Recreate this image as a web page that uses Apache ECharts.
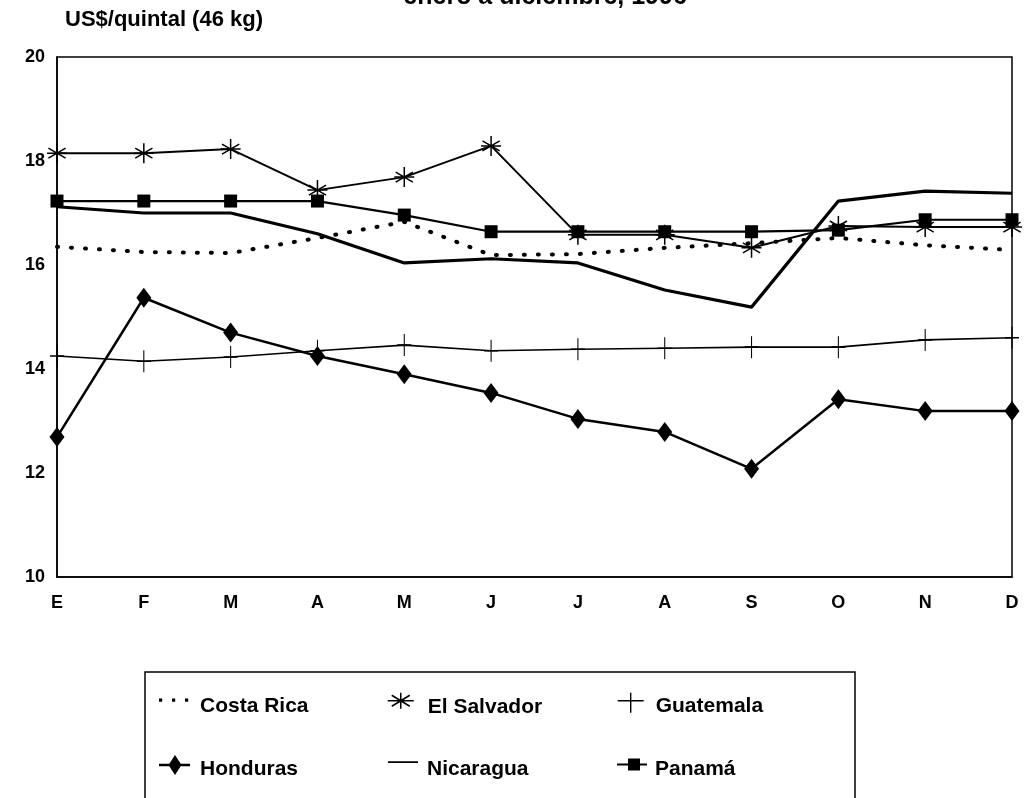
<!DOCTYPE html>
<html style="height: 100%">
<head>
	<meta charset="utf-8">
	<script type="text/javascript" src="https://cdn.jsdelivr.net/npm/echarts@6/dist/echarts.min.js"></script>
	<style>
	body { margin: 0; background: #fff; }
	#container { width: 1026px; height: 798px; }
	</style>
</head>
<body>
	<div id="container"></div>
	<script>
	// meses, enero a diciembre
	var meses = ['E', 'F', 'M', 'A', 'M', 'J', 'J', 'A', 'S', 'O', 'N', 'D'];
	var yTicks = [10, 12, 14, 16, 18, 20];
	// precios US$/quintal (46 kg)
	var costaRica  = [16.35, 16.25, 16.23, 16.52, 16.83, 16.19, 16.21, 16.33, 16.42, 16.52, 16.38, 16.29];
	var elSalvador = [18.15, 18.15, 18.23, 17.44, 17.69, 18.29, 16.58, 16.58, 16.33, 16.75, 16.73, 16.73];
	var guatemala  = [14.25, 14.15, 14.23, 14.35, 14.46, 14.35, 14.38, 14.40, 14.42, 14.42, 14.56, 14.60];
	var honduras   = [12.69, 15.37, 14.70, 14.25, 13.90, 13.54, 13.04, 12.79, 12.08, 13.42, 13.19, 13.19];
	var nicaragua  = [17.12, 17.00, 17.00, 16.60, 16.04, 16.12, 16.04, 15.52, 15.19, 17.23, 17.42, 17.38];
	var panama     = [17.23, 17.23, 17.23, 17.23, 16.96, 16.64, 16.64, 16.64, 16.64, 16.67, 16.87, 16.87];

	var asterisco = 'path://M5 0L5 10M0.7 2.5L9.3 7.5M0.7 7.5L9.3 2.5M0 5L10 5';
	var cruz = 'path://M5 0L5 10M0 5L10 5';
	var fuente = '"Liberation Sans", Arial, sans-serif';

	// iconos de la leyenda, en una caja de 36x28 (las esquinas fijan la caja)
	var caja = 'M0 0L0.01 0M36 28L35.99 28';
	var icono = {
		'Costa Rica': 'path://' + caja + 'M0 6.5H3.2V9.7H0ZM13 6.5H16.2V9.7H13ZM26 6.5H29.2V9.7H26Z',
		'El Salvador': 'path://' + caja + 'M1 8L27 8M14 0L14 16M5 2.5L23 13.5M5 13.5L23 2.5',
		'Guatemala': 'path://' + caja + 'M3 8L29 8M16 0L16 20',
		'Honduras': 'path://' + caja + 'M0 8.8H31V11.2H0ZM16 0L22.5 10L16 20L9.5 10Z',
		'Nicaragua': 'path://' + caja + 'M2 6.3H32V7.9H2Z',
		'Panamá': 'path://' + caja + 'M3 8.5H33V10.5H3ZM14 3.5H26V15.5H14Z'
	};

	var myChart = echarts.init(document.getElementById('container'), null, {renderer: 'canvas'});

	function leyenda(nombre, left, top, trazo) {
		return {
			data: [{name: nombre, icon: icono[nombre]}], left: left, top: top, padding: 0,
			itemWidth: 36, itemHeight: 28, symbolKeepAspect: true,
			itemStyle: {color: '#000', borderColor: '#000', borderWidth: trazo},
			textStyle: {fontFamily: fuente, fontSize: 21, fontWeight: 'bold', color: '#000'}
		};
	}

	var option = {
		backgroundColor: '#fff',
		animation: false,
		title: {
			text: '-enero a diciembre, 1996-',
			left: 390, top: -20,
			textStyle: {fontFamily: fuente, fontSize: 25, fontWeight: 'bold', color: '#000'}
		},
		grid: {left: 57, right: 14, top: 57, bottom: 221, show: true, borderColor: '#000', borderWidth: 1.5},
		xAxis: {
			type: 'category', data: meses, boundaryGap: false,
			axisLine: {lineStyle: {color: '#000', width: 1.5}},
			axisTick: {show: false},
			axisLabel: {margin: 17, color: '#000', fontFamily: fuente, fontSize: 18, fontWeight: 'bold'},
			splitLine: {show: false}
		},
		yAxis: {
			type: 'value', min: yTicks[0], max: yTicks[yTicks.length - 1], interval: 2,
			name: 'US$/quintal (46 kg)', nameLocation: 'end', nameGap: 37,
			nameTextStyle: {align: 'left', verticalAlign: 'middle', padding: [0, 0, 0, 8], color: '#000',
				fontFamily: fuente, fontSize: 22, fontWeight: 'bold'},
			axisLine: {show: true, lineStyle: {color: '#000', width: 1.5}},
			axisTick: {show: false},
			axisLabel: {margin: 12, color: '#000', fontFamily: fuente, fontSize: 18, fontWeight: 'bold'},
			splitLine: {show: false}
		},
		legend: [
			leyenda('Costa Rica', 159, 692, 0),
			leyenda('El Salvador', 386, 692, 1.5),
			leyenda('Guatemala', 614, 692, 1.4),
			leyenda('Honduras', 159, 755, 0),
			leyenda('Nicaragua', 386, 755, 0),
			leyenda('Panamá', 614, 755, 0)
		],
		graphic: [{
			type: 'rect', shape: {x: 145, y: 672, width: 710, height: 140},
			style: {fill: 'none', stroke: '#000', lineWidth: 1.5}, z: -1
		}],
		series: [
			{name: 'Costa Rica', type: 'line', data: costaRica, symbol: 'none',
				lineStyle: {color: '#000', width: 4, type: [1, 13], cap: 'round'}, itemStyle: {color: '#000'}},
			{name: 'El Salvador', type: 'line', data: elSalvador, symbol: asterisco, symbolSize: 20,
				lineStyle: {color: '#000', width: 2}, itemStyle: {color: '#000', borderColor: '#000', borderWidth: 1.5}},
			{name: 'Guatemala', type: 'line', data: guatemala, symbol: cruz, symbolSize: [14, 22],
				lineStyle: {color: '#000', width: 1.6}, itemStyle: {color: '#000', borderColor: '#000', borderWidth: 1.3}},
			{name: 'Honduras', type: 'line', data: honduras, symbol: 'diamond', symbolSize: [15, 20],
				lineStyle: {color: '#000', width: 2.5}, itemStyle: {color: '#000'}},
			{name: 'Nicaragua', type: 'line', data: nicaragua, symbol: 'none',
				lineStyle: {color: '#000', width: 3.2}, itemStyle: {color: '#000'}},
			{name: 'Panamá', type: 'line', data: panama, symbol: 'rect', symbolSize: 13,
				lineStyle: {color: '#000', width: 2.2}, itemStyle: {color: '#000'}}
		]
	};

	myChart.setOption(option, true);
	</script>
</body>
</html>
